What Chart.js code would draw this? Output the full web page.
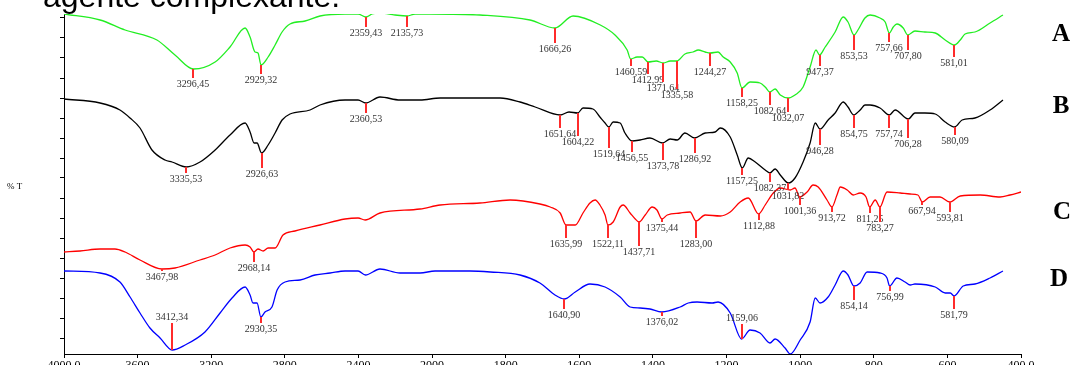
<!DOCTYPE html>
<html>
<head>
<meta charset="utf-8">
<script src="https://cdn.jsdelivr.net/npm/chart.js@4.4.1/dist/chart.umd.min.js"></script>
<style>
  html, body { margin: 0; padding: 0; background: #fff; }
  canvas { display: block; }
</style>
</head>
<body>
<canvas id="ftir" width="1072" height="365"></canvas>
<script>
// wavenumber (cm-1) and %T (arbitrary offset units) of the four spectra
const waveA = [4000,3804,3668,3495,3397,3296.45,3179,3098,3016,2989,2962,2946,2929.32,2891,2853,2815,2772,2690,2609,2473,2402,2359.43,2326,2283,2201,2135.73,2092,2010,1870,1734,1666.26,1617,1543,1503,1470,1460.59,1443,1429,1412.99,1391,1371.64,1353,1335.58,1313,1291,1277,1258,1244.27,1223,1209,1190,1171,1158.25,1136,1109,1095,1082.64,1068,1054,1032.07,1014,992,973,957,947.37,932,905,883,870,853.53,843,824,810,783,769,757.66,747,737,720,707.80,688,661,633,606,581.01,565,552,525,484,449];
const tA = [340,334,324,314,299,285,292,307,326,317,302,301,289,297,309,322,330,333,338,340,340,337,340,341,339,338,340,340,339,334,326,338,329,319,304,295,297,297,292,293,291,293,293,300,302,304,302,301,302,297,292,281,266,272,271,267,262,265,259,256,259,267,287,304,299,307,322,337,332,319,324,336,339,336,332,321,327,330,326,319,323,322,321,314,309,314,320,322,331,339];

const waveB = [4000,3804,3696,3641,3587,3522,3451,3413,3335.53,3261,3179,3098,3016,2989,2967,2951,2926.63,2891,2853,2815,2772,2663,2609,2473,2402,2360.53,2283,2174,2065,1978,1815,1761,1720,1651.64,1628,1604.22,1590,1563,1544,1530,1519.64,1508,1489,1476,1456.55,1435,1408,1373.78,1353,1334,1313,1286.92,1258,1231,1217,1190,1171,1157.25,1141,1122,1095,1082.37,1068,1054,1031.82,1014,992,973,959,946.28,924,905,883,870,854.75,837,824,810,783,757.74,742,706.28,688,661,633,606,580.09,560,525,484,449];
const tB = [255,251,244,236,226,204,194,192,187,192,204,219,231,222,211,211,201,209,221,234,240,244,249,254,254,251,257,254,254,256,256,252,247,239,242,241,246,245,237,231,227,232,231,221,213,214,216,211,215,214,221,216,221,222,226,217,199,186,196,192,184,181,185,179,171,176,192,211,231,225,234,241,252,247,239,244,249,249,246,239,244,235,241,241,240,232,227,234,236,244,254];

const waveC = [4000,3913,3804,3723,3668,3587,3467.98,3397,3261,3179,3098,3016,2989,2968.14,2946,2918,2891,2853,2810,2745,2609,2473,2402,2364,2283,2065,1978,1870,1788,1707,1679,1652,1635.99,1611,1590,1571,1557,1544,1530,1522.11,1508,1489,1481,1462,1448,1437.71,1421,1402,1389,1375.44,1361,1326,1299,1283.00,1258,1217,1190,1163,1141,1112.88,1095,1073,1054,1027,1014,1001.36,981,965,951,927,913.72,900,891,872,856,837,821,811.25,796,783.27,764,728,701,680,667.94,647,620,593.81,565,511,457,430,400];
const tC = [102,103,105,105,102,94,85,86,94,99,106,109,107,102,105,103,106,106,119,123,129,135,136,134,141,145,149,151,154,150,147,141,129,129,141,151,154,149,139,129,132,147,149,141,135,132,139,147,144,135,139,141,142,133,139,138,142,152,156,140,149,161,166,164,166,157,162,169,167,154,147,159,167,164,159,161,157,147,154,147,162,161,160,159,152,157,157,152,158,159,157,159,162];

const waveD = [4000,3804,3696,3641,3587,3533,3478,3412.34,3342,3234,3152,3087,3016,2989,2973,2951,2930.35,2908,2870,2842,2799,2717,2636,2554,2473,2402,2362,2283,2174,2065,1992,1897,1842,1761,1707,1666,1640.90,1611,1571,1530,1489,1462,1435,1408,1376.02,1326,1304,1280,1239,1223,1190,1159.06,1136,1109,1082,1068,1041,1027,1000,973,959,946,924,905,883,870,854.14,837,818,783,764,756.99,737,715,701,688,633,606,592,581.79,557,525,484,449];
const tD = [83,81,72,57,41,26,16,4,9,22,41,56,67,59,51,51,37,42,47,64,72,74,79,81,83,83,79,85,81,81,83,83,82,79,71,59,55,62,70,67,57,47,46,45,42,47,51,52,51,52,41,15,24,21,11,15,6,0,14,32,56,51,57,69,83,79,68,71,82,81,76,68,76,72,69,70,67,61,61,58,68,70,76,83];

// labelled bands
const peaksA = [3296.45,2929.32,2359.43,2135.73,1666.26,1460.59,1412.99,1371.64,1335.58,1244.27,1158.25,1082.64,1032.07,947.37,853.53,757.66,707.80,581.01];
const peaksB = [3335.53,2926.63,2360.53,1651.64,1604.22,1519.64,1456.55,1373.78,1286.92,1157.25,1082.37,1031.82,946.28,854.75,757.74,706.28,580.09];
const peaksC = [3467.98,2968.14,1635.99,1522.11,1437.71,1375.44,1283.00,1112.88,1001.36,913.72,811.25,783.27,667.94,593.81];
const peaksD = [3412.34,2930.35,1640.90,1376.02,1159.06,854.14,756.99,581.79];

// axis ticks
const xTickWaves = [4000,3600,3200,2800,2400,2000,1800,1600,1400,1200,1000,800,600,400];
const xTickLabels = ['4000,0','3600','3200','2800','2400','2000','1800','1600','1400','1200','1000','800','600','400,0'];
const yTickValues = [16,36,56,76,96,116,136,156,176,196,216,236,256,276,296,316,336];

// layout: length of the red marker under each band (negative = label above)
const markA = [9,9,10,11,15,7,12,19,28,13,9,13,14,11,15,9,15,12];
const markB = [6,15,10,13,23,21,11,17,15,7,9,7,16,13,13,19,8];
const markC = [2,10,13,13,24,3,17,6,8,5,6,15,3,10];
const markD = [-27,6,10,4,-15,14,5,13];

// the x axis is compressed 2:1 above 2000 cm-1, like the spectrometer plot
const pos = w => w >= 2000 ? (4000 - w) / 2 : 1000 + (2000 - w);

const series = [
  {name: 'A', wave: waveA, t: tA, peaks: peaksA, mark: markA, color: '#22ee22'},
  {name: 'B', wave: waveB, t: tB, peaks: peaksB, mark: markB, color: '#000000'},
  {name: 'C', wave: waveC, t: tC, peaks: peaksC, mark: markC, color: '#ff0000'},
  {name: 'D', wave: waveD, t: tD, peaks: peaksD, mark: markD, color: '#0000ff'}
];

const fmt = v => v.toFixed(2).replace('.', ',');

const annotations = {
  id: 'annotations',
  afterDatasetsDraw(chart) {
    const {ctx, scales: {x, y}} = chart;
    ctx.save();
    ctx.font = '10px "Liberation Serif", "Times New Roman", serif';
    ctx.textAlign = 'center';
    series.forEach(s => {
      s.peaks.forEach((p, i) => {
        const k = s.wave.indexOf(p);
        const px = Math.round(x.getPixelForValue(pos(p)));
        const py = y.getPixelForValue(s.t[k]);
        const len = s.mark[i];
        ctx.strokeStyle = '#ff2b2b';
        ctx.lineWidth = 2;
        ctx.beginPath();
        ctx.moveTo(px, py);
        ctx.lineTo(px, py + len);
        ctx.stroke();
        ctx.fillStyle = '#333';
        ctx.textBaseline = len < 0 ? 'bottom' : 'top';
        ctx.fillText(fmt(p), px, py + len + (len < 0 ? -1 : 1));
      });
    });
    ctx.restore();
  },
  afterDraw(chart) {
    const {ctx} = chart;
    ctx.save();
    ctx.fillStyle = '#000';
    ctx.textAlign = 'left';
    ctx.textBaseline = 'alphabetic';
    ctx.font = '32px "Liberation Sans", Arial, sans-serif';
    ctx.fillText('agente complexante.', 43, 7);
    ctx.font = '9px "Liberation Serif", serif';
    ctx.textBaseline = 'middle';
    ctx.fillText('% T', 7, 187);
    ctx.font = 'bold 25px "Liberation Serif", serif';
    ctx.textAlign = 'center';
    [['A', 1061, 35], ['B', 1061, 107], ['C', 1062, 213], ['D', 1059, 280]].forEach(([l, lx, ly]) => {
      ctx.fillText(l, lx, ly);
    });
    ctx.restore();
  }
};

new Chart(document.getElementById('ftir').getContext('2d'), {
  type: 'line',
  data: {
    datasets: series.map(s => ({
      label: s.name,
      data: s.wave.map((w, i) => ({x: pos(w), y: s.t[i]})),
      borderColor: s.color,
      borderWidth: 1.3,
      pointRadius: 0,
      cubicInterpolationMode: 'monotone',
      fill: false
    }))
  },
  options: {
    responsive: false,
    animation: false,
    devicePixelRatio: 1,
    layout: {padding: {left: 0, right: 51, top: 14, bottom: 0}},
    plugins: {legend: {display: false}, tooltip: {enabled: false}},
    scales: {
      x: {
        type: 'linear',
        min: 0,
        max: 2600,
        afterBuildTicks: scale => { scale.ticks = xTickWaves.map(w => ({value: pos(w)})); },
        afterFit: scale => { scale.height = 11; },
        ticks: {
          autoSkip: false,
          maxRotation: 0,
          padding: 1,
          color: '#000',
          font: {family: '"Liberation Serif", serif', size: 12},
          callback: (v, i) => xTickLabels[i]
        },
        grid: {drawOnChartArea: false, tickLength: 4, color: '#000'},
        border: {color: '#000', width: 1}
      },
      y: {
        min: 0,
        max: 340,
        afterBuildTicks: scale => { scale.ticks = yTickValues.map(v => ({value: v})); },
        afterFit: scale => { scale.width = 64; },
        ticks: {display: false},
        grid: {drawOnChartArea: false, tickLength: 4, color: '#000'},
        border: {color: '#000', width: 1}
      }
    }
  },
  plugins: [annotations]
});
</script>
</body>
</html>
